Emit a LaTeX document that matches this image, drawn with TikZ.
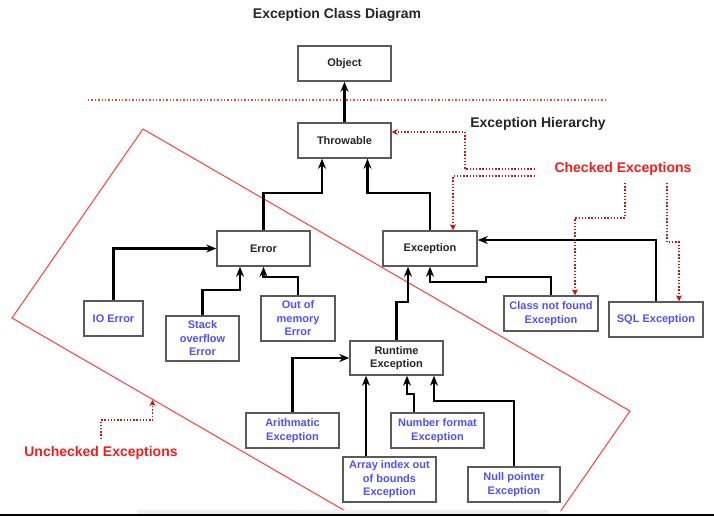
\documentclass[tikz,border=0pt]{standalone}
\usepackage{fontspec}
\setmainfont{Liberation Sans}
\usetikzlibrary{arrows.meta}
\definecolor{boxline}{RGB}{90,90,90}
\definecolor{bluetxt}{RGB}{80,80,255}
\definecolor{redline}{RGB}{255,60,60}
\definecolor{darkred}{RGB}{200,20,20}
\definecolor{redlabel}{RGB}{240,30,30}
\begin{document}
\begin{tikzpicture}[x=1pt,y=-1pt,
  cls/.style={draw=boxline,line width=1.5pt,fill=white,inner sep=0pt,align=center,
    font=\fontsize{11}{13.5}\selectfont\bfseries,text=black!85},
  sub/.style={cls,text=bluetxt},
  inh/.style={draw=black,line width=2.1pt,-{Stealth[length=10pt,width=8pt]}},
  chk/.style={draw=darkred,line width=1.4pt,dash pattern=on 1.4pt off 1.8pt,
    -{Stealth[length=6pt,width=6pt]}},
  lbl/.style={font=\fontsize{14}{16}\selectfont\bfseries,inner sep=0pt}]
\useasboundingbox (0,0) rectangle (714,518);
\fill[white] (0,0) rectangle (714,518);
% title and labels
\node[lbl,text=black!85] (title) at (337,15) {Exception Class Diagram};
\node[lbl,text=black!85] (eh) at (538,124) {Exception Hierarchy};
\node[lbl,text=redlabel] (ce) at (623,169) {Checked Exceptions};
\node[lbl,text=redlabel] (uc) at (101,453) {Unchecked Exceptions};
% separator
\draw[redline,line width=1.3pt,dash pattern=on 1.4pt off 2pt] (88,100) -- (607,100);
% rotated red frame
\begin{scope}
\clip (0,0) rectangle (714,510);
\draw[redline,line width=1pt] (143,129) -- (630,411) -- (499,600) -- (12,318) -- cycle;
\end{scope}
% bottom edge
\fill[black!6] (137,510) rectangle (549,514);
\draw[black,line width=2pt] (0,515) -- (714,515);
% boxes
\node[cls,minimum width=93pt,minimum height=35pt] (obj) at (344.5,63.5) {Object};
\node[cls,minimum width=93pt,minimum height=35pt] (thr) at (344.5,140.5) {Throwable};
\node[cls,minimum width=93pt,minimum height=35pt] (err) at (263.5,248.5) {Error};
\node[cls,minimum width=94pt,minimum height=35pt] (exc) at (430,248.5) {Exception};
\node[sub,minimum width=59pt,minimum height=35pt] (io) at (113.5,318.5) {IO Error};
\node[sub,minimum width=73pt,minimum height=45pt] (so) at (202.5,338.5) {Stack\\overflow\\Error};
\node[sub,minimum width=74pt,minimum height=45pt] (oom) at (298,318.5) {Out of\\memory\\Error};
\node[sub,minimum width=94pt,minimum height=35pt] (cnf) at (551,313.5) {Class not found\\Exception};
\node[sub,minimum width=94pt,minimum height=35pt] (sql) at (656,319.5) {SQL Exception};
\node[cls,minimum width=93pt,minimum height=34pt] (rt) at (396.5,358) {Runtime\\Exception};
\node[sub,minimum width=93pt,minimum height=35pt] (ar) at (292.5,430.5) {Arithmatic\\Exception};
\node[sub,minimum width=93pt,minimum height=35pt] (nf) at (437.5,430.5) {Number format\\Exception};
\node[sub,minimum width=93pt,minimum height=45pt] (arr) at (389.5,479.5) {Array index out\\of bounds\\Exception};
\node[sub,minimum width=92pt,minimum height=35pt] (np) at (514,484.5) {Null pointer\\Exception};
% inheritance connectors
\draw[inh] (thr.north) -- (obj.south);
\draw[inh] (err.north) -- ++(0,-37) -| ([xshift=-22.5pt]thr.south);
\draw[inh] (exc.north) -- ++(0,-37) -| ([xshift=23pt]thr.south);
\draw[inh] (io.north) |- (err.west);
\draw[inh] (so.north) -- ++(0,-25) -| ([xshift=-23.5pt]err.south);
\draw[inh] (oom.north) -- ++(0,-18) -| (err.south);
\draw[inh] (cnf.north) -- ++(0,-18) -- ++(-65,0) -- ++(0,5) -| (exc.south);
\draw[inh] (sql.north) |- ([yshift=8.5pt]exc.east);
\draw[inh] (rt.north) -- ++(0,-38) -| ([xshift=-22pt]exc.south);
\draw[inh] (ar.north) |- (rt.west);
\draw[inh] ([xshift=-23.5pt]nf.north) -- ++(0,-18) -| ([xshift=10.5pt]rt.south);
\draw[inh] ([xshift=-23.5pt]arr.north) -- ([xshift=-30.5pt]rt.south);
\draw[inh] (np.north) -- ++(0,-65) -| ([xshift=37.5pt]rt.south);
% checked exception pointers
\coordinate (c1) at (535,169);
\coordinate (c2) at (535,176);
\coordinate (c3) at (625,183);
\coordinate (c4) at (667,183);
\coordinate (u1) at (101,439);
\coordinate (u2) at (152.5,400);
\draw[chk] (c1) -- ++(-70,0) |- ([yshift=8.5pt]thr.east);
\draw[chk] (c2) -| ([xshift=23pt]exc.north);
\draw[chk] (c3) -- ++(0,35) -| ([xshift=24pt]cnf.north);
\draw[chk] (c4) -- ++(0,59) -| ([xshift=23pt]sql.north);
\draw[chk] (u1) -- ++(0,-19) -| (u2);
\end{tikzpicture}
\end{document}
